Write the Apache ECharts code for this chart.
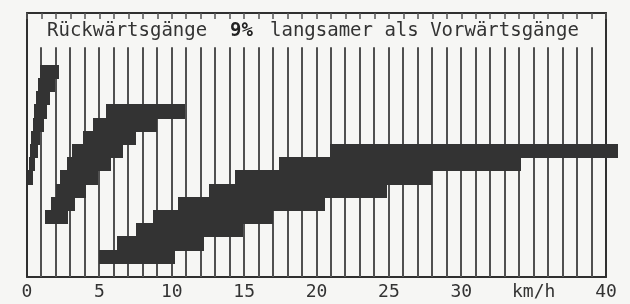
<!DOCTYPE html>
<html>
<head>
<meta charset="utf-8">
<script src="https://cdn.jsdelivr.net/npm/echarts@6/dist/echarts.min.js"></script>
<style>
  html, body { margin: 0; padding: 0; background: #f6f6f4; }
  #chart { width: 630px; height: 304px; }
</style>
</head>
<body>
<div id="chart"></div>
<script>
// speed ranges per gear (km/h), lowest gear first
const crawlLow = [0.1, 0.15, 0.2, 0.3, 0.4, 0.5, 0.6, 0.75, 0.9];
const crawlHigh = [0.4, 0.55, 0.75, 0.9, 1.15, 1.35, 1.6, 1.9, 2.2];
const groupLow = [1.25, 1.65, 2.0, 2.3, 2.75, 3.1, 3.85, 4.55, 5.45];
const groupHigh = [2.8, 3.3, 4.1, 4.9, 5.8, 6.6, 7.5, 9.0, 10.9];
const roadLow = [5.0, 6.2, 7.5, 8.7, 10.4, 12.6, 14.4, 17.4, 20.9];
const roadHigh = [10.2, 12.2, 14.9, 17.0, 20.6, 24.9, 28.0, 34.1, 40.8];
// first row of each band
const bandStart = [7, 4, 1];
const gridTicks = [1,2,3,4,5,6,7,8,9,10,11,12,13,14,15,16,17,18,19,20,21,22,23,24,25,26,27,28,29,30,31,32,33,34,35,36,37,38,39];
const tickLabels = { 0: '0', 5: '5', 10: '10', 15: '15', 20: '20', 25: '25', 30: '30', 35: 'km/h', 40: '40' };

const ink = '#2f2f2f';
const mono = 'DejaVu Sans Mono';

const bands = [[crawlLow, crawlHigh], [groupLow, groupHigh], [roadLow, roadHigh]];
const barData = [];
bands.forEach(([lo, hi], b) => {
  lo.forEach((v, i) => barData.push([v, hi[i], bandStart[b] + i]));
});

const frameLine = { show: true, onZero: false, lineStyle: { color: ink, width: 2 } };

const chart = echarts.init(document.getElementById('chart'));
const option = {
  backgroundColor: '#f6f6f4',
  animation: false,
  grid: { left: 27, right: 24, top: 13, bottom: 27 },
  xAxis: [
    {
      type: 'value', min: 0, max: 40, interval: 5,
      axisLine: frameLine,
      axisTick: { show: false },
      splitLine: { show: false },
      axisLabel: {
        margin: 6, color: '#333', fontFamily: mono, fontSize: 18,
        formatter: v => tickLabels[v] || ''
      }
    },
    {
      type: 'value', position: 'top', min: 0, max: 40, interval: 1,
      axisLine: frameLine,
      axisTick: { show: true, inside: true, length: 6, lineStyle: { color: '#555', width: 1.5 } },
      splitLine: { show: false },
      axisLabel: { show: false }
    }
  ],
  yAxis: [
    {
      type: 'value', min: 0, max: 20, position: 'left',
      axisLine: frameLine,
      axisTick: { show: false }, axisLabel: { show: false }, splitLine: { show: false }
    },
    {
      type: 'value', min: 0, max: 20, position: 'right',
      axisLine: frameLine,
      axisTick: { show: false }, axisLabel: { show: false }, splitLine: { show: false }
    }
  ],
  graphic: [
    { type: 'text', left: 47, top: 22, style: { text: 'Rückwärtsgänge', font: '19px "DejaVu Sans Mono"', fill: '#333' } },
    { type: 'text', left: 230, top: 22, style: { text: '9%', font: 'bold 19px "DejaVu Sans Mono"', fill: '#222' } },
    { type: 'text', left: 270, top: 22, style: { text: 'langsamer als Vorwärtsgänge', font: '19px "DejaVu Sans Mono"', fill: '#333' } }
  ],
  series: [
    {
      type: 'custom',
      data: gridTicks,
      renderItem: (params, api) => {
        const x = api.value(0);
        const p0 = api.coord([x, 0]);
        const p1 = api.coord([x, 17.4]);
        return {
          type: 'line',
          shape: { x1: Math.round(p0[0]), y1: p0[1], x2: Math.round(p1[0]), y2: p1[1] },
          style: { stroke: '#505050', lineWidth: 2 }
        };
      }
    },
    {
      type: 'custom',
      data: barData,
      clip: false,
      renderItem: (params, api) => {
        const a = api.coord([api.value(0), api.value(2) + 1]);
        const b = api.coord([api.value(1), api.value(2)]);
        const x0 = Math.round(a[0]), x1 = Math.round(b[0]);
        const y0 = Math.round(a[1]), y1 = Math.round(b[1]);
        return {
          type: 'rect',
          shape: { x: x0, y: y0 - 1, width: x1 - x0, height: y1 - y0 + 1 },
          style: { fill: '#333' }
        };
      }
    }
  ]
};
chart.setOption(option);
</script>
</body>
</html>
